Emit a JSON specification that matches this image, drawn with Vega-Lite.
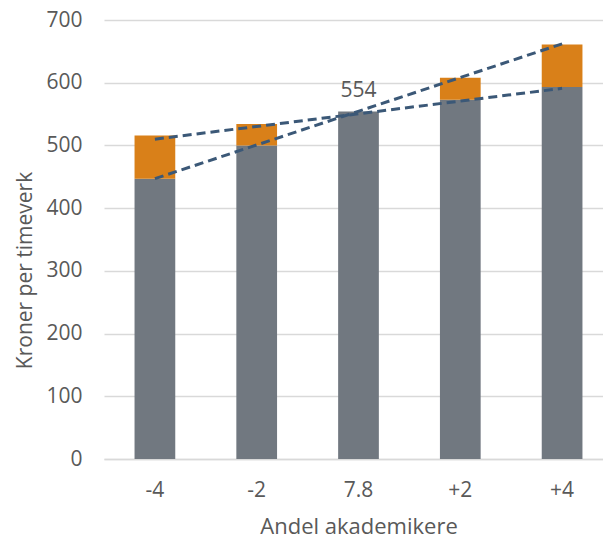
{
  "$schema": "https://vega.github.io/schema/vega-lite/v6.json",
  "autosize": {"type": "none"},
  "width": 509,
  "height": 439,
  "padding": {"left": 104, "top": 20, "right": 0, "bottom": 79},
  "background": "white",
  "config": {
    "font": "Open Sans",
    "view": {"stroke": null},
    "axis": {"labelColor": "#595959", "titleColor": "#595959", "labelFont": "Open Sans", "titleFont": "Open Sans"}
  },
  "datasets": {
    "bars": [
      {"andel": "-4", "del": "base", "ord": 1, "kr": 447},
      {"andel": "-4", "del": "tillegg", "ord": 2, "kr": 69},
      {"andel": "-2", "del": "base", "ord": 1, "kr": 500},
      {"andel": "-2", "del": "tillegg", "ord": 2, "kr": 34},
      {"andel": "7.8", "del": "base", "ord": 1, "kr": 554},
      {"andel": "7.8", "del": "tillegg", "ord": 2, "kr": 0},
      {"andel": "+2", "del": "base", "ord": 1, "kr": 573},
      {"andel": "+2", "del": "tillegg", "ord": 2, "kr": 35},
      {"andel": "+4", "del": "base", "ord": 1, "kr": 593},
      {"andel": "+4", "del": "tillegg", "ord": 2, "kr": 68}
    ],
    "trend": [
      {"andel": "-4", "linje": "a", "kr": 510},
      {"andel": "+4", "linje": "a", "kr": 591},
      {"andel": "-4", "linje": "b", "kr": 447},
      {"andel": "+4", "linje": "b", "kr": 662}
    ],
    "etikett": [
      {"andel": "7.8", "kr": 554}
    ]
  },
  "encoding": {
    "x": {
      "field": "andel", "type": "nominal",
      "sort": ["-4", "-2", "7.8", "+2", "+4"],
      "scale": {"paddingInner": 0.6, "paddingOuter": 0.3},
      "axis": {
        "title": "Andel akademikere", "labelAngle": 0, "labelFontSize": 21, "titleFontSize": 22,
        "titleFontWeight": "normal", "labelPadding": 20, "titlePadding": 16,
        "ticks": false, "domainColor": "#D9D9D9", "domainWidth": 1.5
      }
    }
  },
  "layer": [
    {
      "data": {"name": "bars"},
      "mark": {"type": "bar"},
      "encoding": {
        "y": {
          "field": "kr", "type": "quantitative", "stack": "zero",
          "scale": {"domain": [0, 700], "nice": false},
          "axis": {
            "title": "Kroner per timeverk", "values": [0, 100, 200, 300, 400, 500, 600, 700],
            "labelFontSize": 21, "titleFontSize": 21, "titleFontWeight": "normal",
            "labelPadding": 22, "titlePadding": 10, "titleY": 250, "ticks": false, "domain": false,
            "gridColor": "#D9D9D9", "gridWidth": 1.5
          }
        },
        "color": {
          "field": "del", "type": "nominal",
          "scale": {"domain": ["base", "tillegg"], "range": ["#717880", "#D98019"]},
          "legend": null
        },
        "order": {"field": "ord", "type": "quantitative"}
      }
    },
    {
      "data": {"name": "trend"},
      "mark": {"type": "line", "color": "#3B5877", "strokeWidth": 3, "strokeDash": [9, 5]},
      "encoding": {
        "y": {"field": "kr", "type": "quantitative"},
        "detail": {"field": "linje", "type": "nominal"}
      }
    },
    {
      "data": {"name": "etikett"},
      "mark": {"type": "text", "fontSize": 21, "color": "#595959", "baseline": "bottom", "dy": -11},
      "encoding": {
        "y": {"field": "kr", "type": "quantitative"},
        "text": {"field": "kr", "type": "quantitative"}
      }
    }
  ]
}
